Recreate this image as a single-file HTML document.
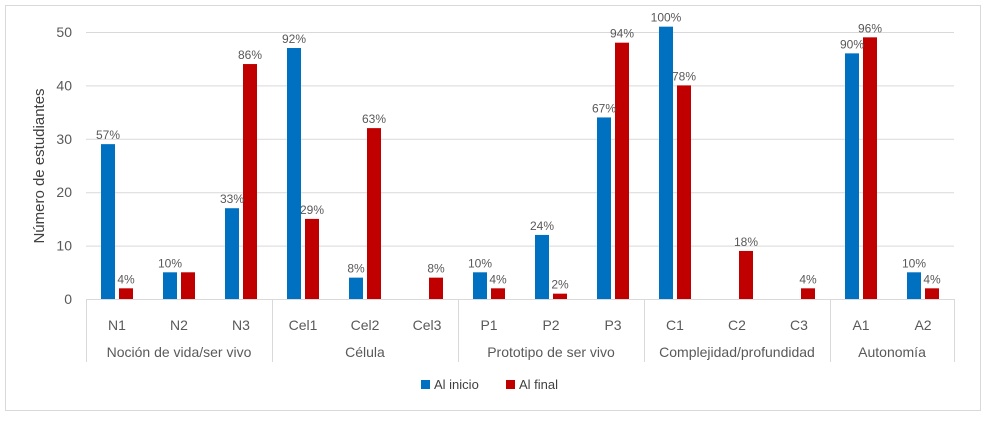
<!DOCTYPE html>
<html><head><meta charset="utf-8"><style>
body{margin:0;background:#fff;font-family:"Liberation Sans",sans-serif}
svg text{font-family:"Liberation Sans",sans-serif}
</style></head><body>
<svg width="988" height="425" xmlns="http://www.w3.org/2000/svg">
<rect x="5.5" y="5.5" width="975" height="405" fill="#fff" stroke="#d9d9d9"/>
<g id="g"></g>
<text transform="translate(44,166) rotate(-90)" text-anchor="middle" font-size="15" fill="#404040">Número de estudiantes</text>
<g>
<rect x="421" y="380" width="9" height="9" fill="#0070c0"/>
<text x="434" y="389" font-size="13" fill="#404040">Al inicio</text>
<rect x="506" y="380" width="9" height="9" fill="#c00000"/>
<text x="519" y="389" font-size="13" fill="#404040">Al final</text>
</g>
</svg>
<script>
const categories=["N1","N2","N3","Cel1","Cel2","Cel3","P1","P2","P3","C1","C2","C3","A1","A2"];
const inicio=[29,5,17,47,4,0,5,12,34,51,0,0,46,5];
const final=[2,5,44,15,32,4,2,1,48,40,9,2,49,2];
const inicioLabels=["57%","10%","33%","92%","8%","","10%","24%","67%","100%","","","90%","10%"];
const finalLabels=["4%","","86%","29%","63%","8%","4%","2%","94%","78%","18%","4%","96%","4%"];
const groups=["Noción de vida/ser vivo","Célula","Prototipo de ser vivo","Complejidad/profundidad","Autonomía"];
const groupSizes=[3,3,3,3,2];
const yTicks=[0,10,20,30,40,50];
const NS="http://www.w3.org/2000/svg",g=document.getElementById('g');
const x0=86,cw=62,y0=299,k=267/50;
const Y=v=>y0-v*k, X=i=>x0+cw*i+cw/2;
function mk(t,a,txt){const e=document.createElementNS(NS,t);for(const n in a)e.setAttribute(n,a[n]);if(txt!==undefined)e.textContent=txt;g.appendChild(e);return e;}
yTicks.forEach(t=>{
 if(t>0){const l=mk('line',{x1:x0,x2:x0+cw*14,y1:Y(t)+.5,y2:Y(t)+.5,stroke:'#d9d9d9'});
 
 }
 const tx=mk('text',{x:72,y:Y(t)+5,'text-anchor':'end','font-size':14,fill:'#595959'},t);
 
 
});
categories.forEach((c,i)=>{
 const cx=X(i);
 const b=mk('rect',{x:cx-16,y:Y(inicio[i]),width:14,height:inicio[i]*k,fill:'#0070c0'});
 
 
 const r=mk('rect',{x:cx+2,y:Y(final[i]),width:14,height:final[i]*k,fill:'#c00000'});
 
 
 if(inicioLabels[i]){const t=mk('text',{x:cx-9,y:Y(inicio[i])-5,'text-anchor':'middle','font-size':12,fill:'#595959'},inicioLabels[i]);
 
 }
 if(finalLabels[i]){const t=mk('text',{x:cx+9,y:Y(final[i])-5,'text-anchor':'middle','font-size':12,fill:'#595959'},finalLabels[i]);
 
 }
 const ct=mk('text',{x:cx,y:330,'text-anchor':'middle','font-size':14,fill:'#595959'},c);
 
 
});
const ax=mk('line',{x1:x0,x2:x0+cw*14,y1:y0+.5,y2:y0+.5,stroke:'#d9d9d9'});


let s=0;
const sep=i=>{const l=mk('line',{x1:x0+cw*i+.5,x2:x0+cw*i+.5,y1:y0,y2:362,stroke:'#d9d9d9'});
 
 };
sep(0);
groups.forEach((n,j)=>{
 const e=s+groupSizes[j];
 const t=mk('text',{x:x0+cw*(s+e)/2,y:357,'text-anchor':'middle','font-size':14,fill:'#595959'},n);
 
 
 sep(e);s=e;
});
</script>
</body></html>
